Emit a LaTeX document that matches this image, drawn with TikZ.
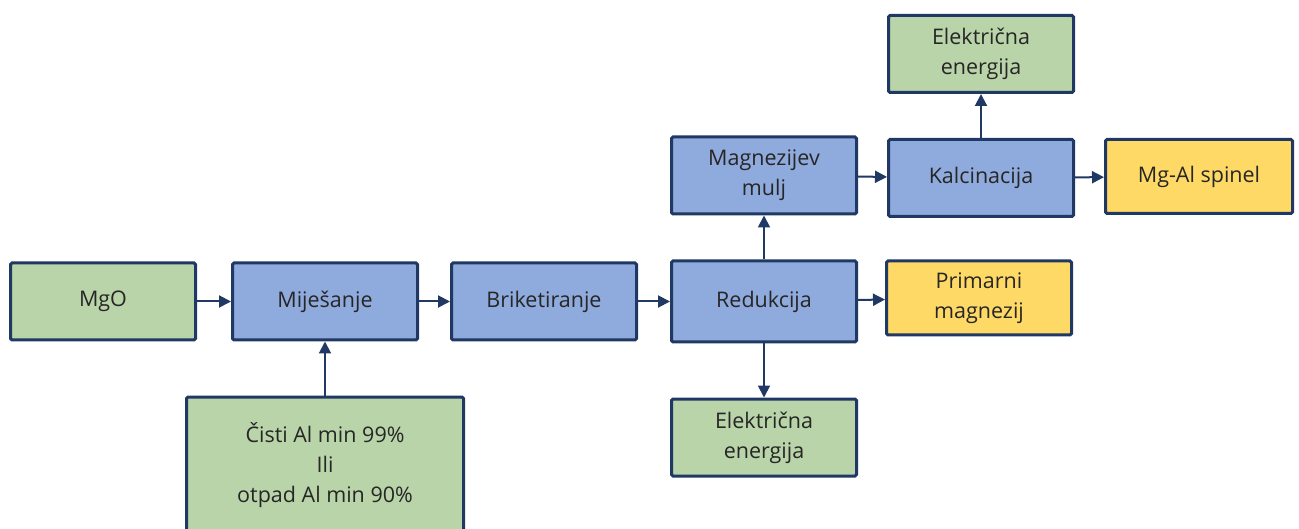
\documentclass[tikz,border=0pt]{standalone}
\usepackage{fontspec}
\setmainfont{Open Sans}
\usetikzlibrary{graphs, positioning, arrows.meta}

\definecolor{boxline}{HTML}{203864}
\definecolor{inputgreen}{HTML}{B8D4A8}
\definecolor{processblue}{HTML}{8FAADC}
\definecolor{outputyellow}{HTML}{FFD966}
\definecolor{textgray}{HTML}{262626}

\tikzset{
    stage/.style={draw=boxline, line width=3pt, rounded corners=1.5pt, minimum width=185pt, minimum height=77pt,
        align=center, text=textgray, font=\fontsize{21.5}{30}\selectfont},
    input/.style={stage, fill=inputgreen},
    process/.style={stage, fill=processblue},
    output/.style={stage, fill=outputyellow},
}

\begin{document}
\begin{tikzpicture}[x=1pt, y=1pt, >={Triangle[length=12pt, width=12pt]}]
    \useasboundingbox (0,0) rectangle (1299,-529);

    \node[input] (MgO) at (103,-301.5) {MgO};
    \node[process, right=34pt of MgO]          (Mijesanje)    {Miješanje};
    \node[process, right=31pt of Mijesanje]    (Briketiranje) {Briketiranje};
    \node[process, right=32pt of Briketiranje, minimum height=81pt] (Redukcija) {Redukcija};
    \node[output, right=27pt of Redukcija, minimum height=74pt, yshift=3.5pt] (Primarni) {Primarni\\magnezij};

    \node[process, above=44pt of Redukcija]    (Mulj)         {Magnezijev\\mulj};
    \node[process, right=29pt of Mulj, yshift=-2.5pt] (Kalcinacija) {Kalcinacija};
    \node[input, above=44pt of Kalcinacija]    (Energija 1)   {Električna\\energija};
    \node[output, right=29pt of Kalcinacija, minimum width=187pt, minimum height=74pt, yshift=1.5pt] (Spinel) {Mg-Al spinel};

    \node[input, below=54pt of Redukcija]      (Energija 2)   {Električna\\energija};
    \node[input, below=54pt of Mijesanje, minimum width=277pt, minimum height=137pt] (Aluminij) {Čisti Al min 99\%\\Ili\\otpad Al min 90\%};

    \graph[edges={line width=2pt, draw=boxline}]{
        (MgO) -> (Mijesanje) -> (Briketiranje) -> (Redukcija) -> (Primarni);
        (Aluminij) -> (Mijesanje);
        (Redukcija) -> (Mulj) -> (Kalcinacija) -> (Spinel);
        (Redukcija) -> (Energija 2);
        (Kalcinacija) -> (Energija 1);
    };
\end{tikzpicture}
\end{document}
